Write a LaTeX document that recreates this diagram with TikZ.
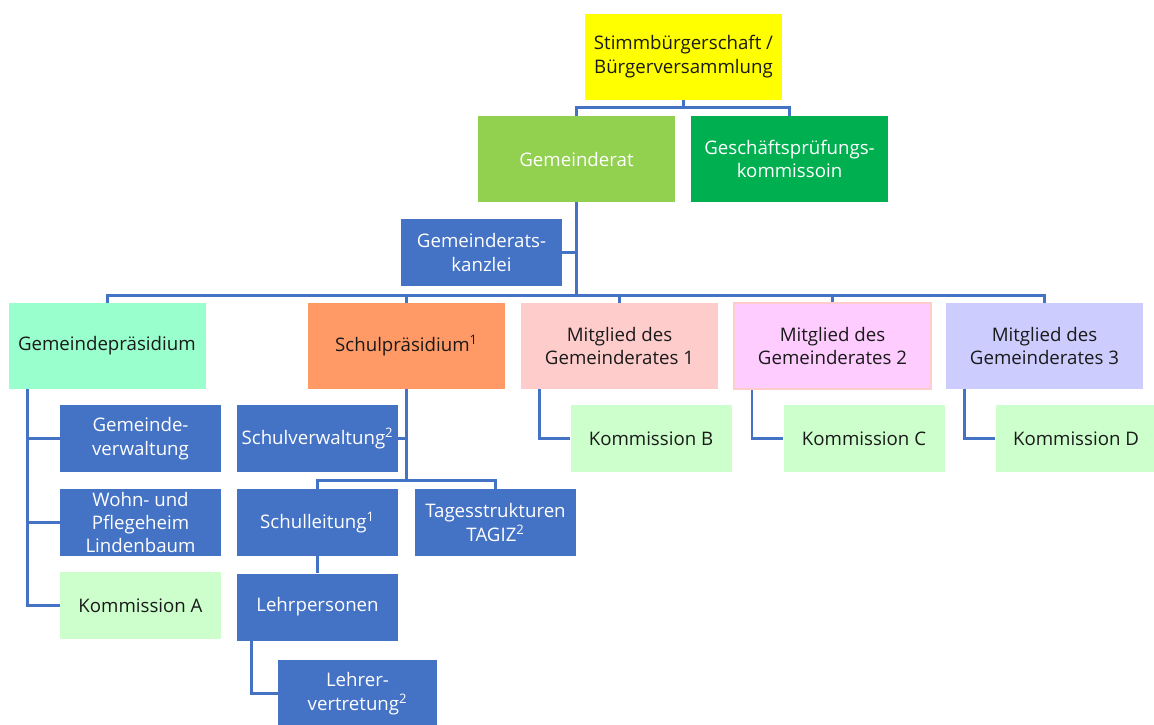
\documentclass[tikz,border=0pt]{standalone}
\usepackage{fontspec}
\setmainfont{Open Sans}
\usepackage{tikz}
\usetikzlibrary{positioning,calc}
\definecolor{cYellow}{HTML}{FFFF00}
\definecolor{cLime}{HTML}{92D050}
\definecolor{cGreen}{HTML}{00B050}
\definecolor{cBlue}{HTML}{4472C4}
\definecolor{cMint}{HTML}{99FFCC}
\definecolor{cOrange}{HTML}{FF9966}
\definecolor{cRose}{HTML}{FFCCCC}
\definecolor{cPink}{HTML}{FFCCFF}
\definecolor{cLilac}{HTML}{CCCCFF}
\definecolor{cKomm}{HTML}{CCFFCC}
\definecolor{cText}{HTML}{1A1A1A}

\tikzset{
	box/.style={inner sep=2pt, align=center, font=\fontsize{14}{17.5}\selectfont, text=cText},
	big/.style={box, minimum width=147.75pt, minimum height=64.5pt},
	small/.style={box, minimum width=120.75pt, minimum height=50.25pt},
	unit/.style={small, fill=cBlue, text=white},
	komm/.style={small, fill=cKomm},
	link/.style={draw=cBlue, line width=2pt}
}

\begin{document}
\begin{tikzpicture}[x=0.75pt, y=-0.75pt]
				\useasboundingbox (0,0) rectangle (1154,725);
				\node[big, fill=cYellow] (volk) at (683.5,56.5) {Stimmbürgerschaft /\\Bürgerversammlung};
				\node[big, fill=cLime, text=white] (gr) at (576.5,159) {Gemeinderat};
				\node[big, fill=cGreen, text=white] (gpk) at (789.5,159) {Geschäftsprüfungs-\\kommissoin};
				\node[unit] (gk) at (481.5,252.5) {Gemeinderats-\\kanzlei};
				\node[big, fill=cMint, align=left, inner xsep=6.75pt, text width=134.25pt] (gp) at (107.5,346) {Gemeindepräsidium};
				\node[big, fill=cOrange] (sp) at (406.5,346) {Schulpräsidium\textsuperscript{1}};
				\node[big, fill=cRose] (m1) at (619.5,346) {Mitglied des\\Gemeinderates 1};
				\node[big, fill=cPink, draw=cRose, line width=1.5pt] (m2) at (832.5,346) {Mitglied des\\Gemeinderates 2};
				\node[big, fill=cLilac] (m3) at (1044.5,346) {Mitglied des\\Gemeinderates 3};
				\node[unit] (gv) at (140.5,438.5) {Gemeinde-\\verwaltung};
				\node[unit] (wp) at (140.5,522.5) {Wohn- und\\Pflegeheim\\Lindenbaum};
				\node[komm] (kA) at (140.5,605.5) {Kommission A};
				\node[unit] (sv) at (317.5,438.5) {Schulverwaltung\textsuperscript{2}};
				\node[unit] (sl) at (317.5,522.5) {Schulleitung\textsuperscript{1}};
				\node[unit] (tg) at (495.5,522.5) {Tagesstrukturen\\TAGIZ\textsuperscript{2}};
				\node[unit] (lp) at (317.5,607) {Lehrpersonen};
				\node[unit, minimum width=119.25pt] (lv) at (357.5,693.5) {Lehrer-\\vertretung\textsuperscript{2}};
				\node[komm] (kB) at (651,438.5) {Kommission B};
				\node[komm] (kC) at (864,438.5) {Kommission C};
				\node[komm] (kD) at (1076,438.5) {Kommission D};

				\draw[link] (volk.south) -- ++(0,8) coordinate (b0);
				\draw[link] (gr.north) |- (b0) -| (gpk.north);
				\draw[link] (gr.south) -- ++(0,93) coordinate (b1);
				\draw[link] (gk.east) -- (gk.east -| gr.south);
				\draw[link] (gp.north) |- (b1) -| (m3.north);
				\draw[link] (sp.north) -- (sp.north |- b1);
				\draw[link] (m1.north) -- (m1.north |- b1);
				\draw[link] (m2.north) -- (m2.north |- b1);

				\path (gp.south west) ++(19,0) coordinate (gpL);
				\draw[link] (gpL) |- (kA.west);
				\draw[link] (gv.west) -- (gv.west -| gpL);
				\draw[link] (wp.west) -- (wp.west -| gpL);

				\draw[link] (sp.south) -- ++(0,91) coordinate (b2);
				\draw[link] (sv.east) -- (sv.east -| sp.south);
				\draw[link] (sl.north) |- (b2) -| (tg.north);
				\draw[link] (sl) -- (lp);
				\draw[link] (lp.south west) ++(15,0) |- (lv.west);

				\draw[link] (m1.south west) ++(19,0) |- (kB.west);
				\draw[link] (m2.south west) ++(19,0) |- (kC.west);
				\draw[link] (m3.south west) ++(19,0) |- (kD.west);
			\end{tikzpicture}
\end{document}
